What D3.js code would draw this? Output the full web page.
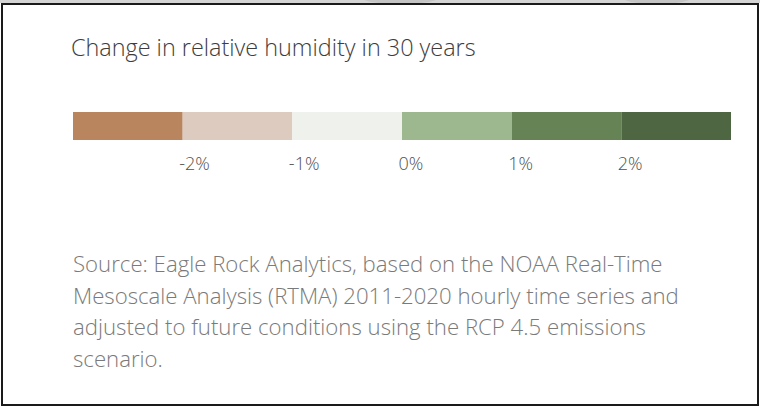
<!DOCTYPE html>
<html>
<head>
<meta charset="utf-8">
<script src="https://cdn.jsdelivr.net/npm/d3@7"></script>
<style>
  html, body { margin: 0; padding: 0; background: #fff; }
  svg { display: block; }
</style>
</head>
<body>
<svg id="chart" width="760" height="408"></svg>
<script>
// Legend bins for change in relative humidity (percentage points)
const thresholds = [-2, -1, 0, 1, 2];
const extent = [-3, 3];
const binColors = ["#b8855f", "#ddcbbf", "#eff1ed", "#9db88e", "#668355", "#4e6642"];
const tickLabels = ["-2%", "-1%", "0%", "1%", "2%"];

const titleText = "Change in relative humidity in 30 years";
const sourceLines = [
  "Source: Eagle Rock Analytics, based on the NOAA Real-Time",
  "Mesoscale Analysis (RTMA) 2011-2020 hourly time series and",
  "adjusted to future conditions using the RCP 4.5 emissions",
  "scenario."
];

const svg = d3.select("#chart");
const W = 760, H = 408;

// strip of the page above the card
svg.append("rect").attr("x", 0).attr("y", 0).attr("width", W).attr("height", 3).attr("fill", "#d4d4d4");
[[400, 38], [657, 34]].forEach(([cx, rx]) => {
  svg.append("ellipse").attr("cx", cx).attr("cy", -2).attr("rx", rx).attr("ry", 6).attr("fill", "#c4c4c4");
});

// card border
svg.append("rect")
  .attr("x", 2).attr("y", 4)
  .attr("width", 756).attr("height", 401)
  .attr("fill", "#fff")
  .attr("stroke", "#1a1a1a")
  .attr("stroke-width", 2);

const font = "'Open Sans', 'Noto Sans', sans-serif";

svg.append("text")
  .attr("x", 71).attr("y", 56)
  .attr("font-family", font)
  .attr("font-weight", 300)
  .attr("font-size", 23.4)
  .attr("fill", "#3d3d3d")
  .text(titleText);

// colour legend
const x = d3.scaleLinear().domain(extent).range([73, 731]);
const color = d3.scaleThreshold().domain(thresholds).range(binColors);
const bins = [extent[0], ...thresholds, extent[1]];
const binData = d3.pairs(bins);

const legend = svg.append("g");
legend.selectAll("rect")
  .data(binData)
  .join("rect")
  .attr("x", d => x(d[0]))
  .attr("y", 112)
  .attr("width", d => x(d[1]) - x(d[0]))
  .attr("height", 28)
  .attr("fill", d => color(d[0]));

const axis = d3.axisBottom(x)
  .tickValues(thresholds)
  .tickFormat((d, i) => tickLabels[i])
  .tickSize(0)
  .tickPadding(0);

const axisG = svg.append("g")
  .attr("transform", "translate(0,140)")
  .call(axis);
axisG.select(".domain").remove();
axisG.selectAll("text")
  .attr("font-family", font)
  .attr("font-weight", 300)
  .attr("font-size", 18)
  .attr("fill", "#505050")
  .attr("text-anchor", "start")
  .attr("dx", -4)
  .attr("dy", 0)
  .attr("y", 30);

// source note
const src = svg.append("text")
  .attr("font-family", font)
  .attr("font-weight", 300)
  .attr("font-size", 22.2)
  .attr("fill", "#7a7a7a");
src.selectAll("tspan")
  .data(sourceLines)
  .join("tspan")
  .attr("x", 73)
  .attr("y", (d, i) => 272 + i * 31.7)
  .text(d => d);
</script>
</body>
</html>
